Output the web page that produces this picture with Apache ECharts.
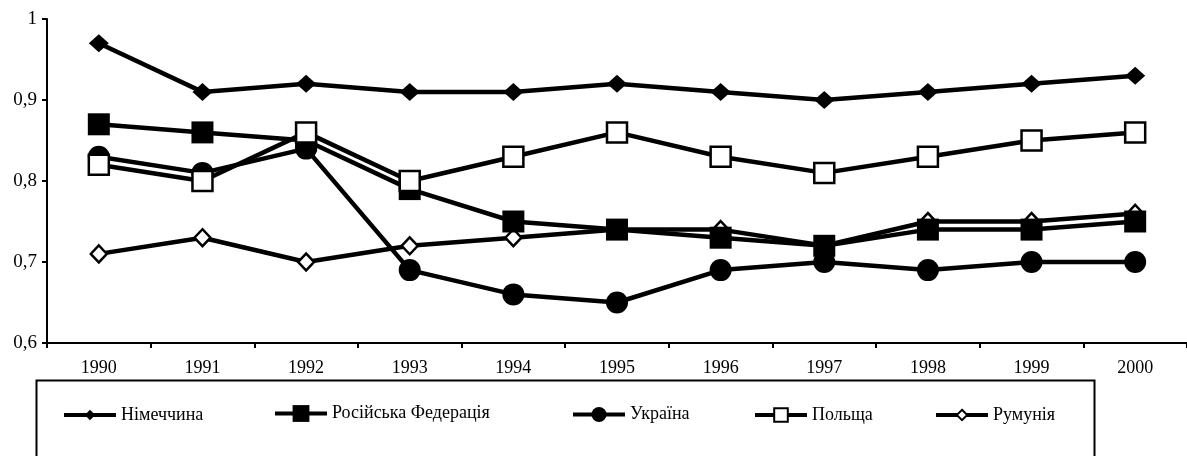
<!DOCTYPE html>
<html>
<head>
<meta charset="utf-8">
<script src="https://cdn.jsdelivr.net/npm/echarts@6/dist/echarts.min.js"></script>
<style>
	html, body {margin: 0; padding: 0; background: #fff;}
	#main {width: 1187px; height: 456px;}
</style>
</head>
<body>
<div id="main"></div>
<script>
var years = ['1990', '1991', '1992', '1993', '1994', '1995', '1996', '1997', '1998', '1999', '2000'];
var yTicks = [0.6, 0.7, 0.8, 0.9, 1];

var nimechchyna = [0.97, 0.91, 0.92, 0.91, 0.91, 0.92, 0.91, 0.90, 0.91, 0.92, 0.93];
var rosiya = [0.87, 0.86, 0.85, 0.79, 0.75, 0.74, 0.73, 0.72, 0.74, 0.74, 0.75];
var ukraina = [0.83, 0.81, 0.84, 0.69, 0.66, 0.65, 0.69, 0.70, 0.69, 0.70, 0.70];
var polshcha = [0.82, 0.80, 0.86, 0.80, 0.83, 0.86, 0.83, 0.81, 0.83, 0.85, 0.86];
var rumuniya = [0.71, 0.73, 0.70, 0.72, 0.73, 0.74, 0.74, 0.72, 0.75, 0.75, 0.76];

var names = ['Німеччина', 'Російська Федерація', 'Україна', 'Польща', 'Румунія'];

var serif = 'Liberation Serif';

var myChart = echarts.init(document.getElementById('main'), null, {renderer: 'canvas'});

// one legend per entry so every entry sits where it does in the picture
function oneLegend(name, left, h) {
	return {
		data: [name],
		left: left,
		top: 415 - Math.max(h, 18) / 2,
		padding: 0,
		itemWidth: 52,
		itemHeight: h,
		lineStyle: {width: 4, color: '#000'},
		textStyle: {fontFamily: serif, fontSize: 18, color: '#000'},
		selectedMode: false
	};
}

function lineSeries(name, data, symbol, size, hollow, z) {
	return {
		name: name,
		type: 'line',
		data: data,
		symbol: symbol,
		symbolSize: size,
		z: z,
		lineStyle: {color: '#000', width: 4.5},
		itemStyle: hollow ? {color: '#fff', borderColor: '#000', borderWidth: 2.5}
			: {color: '#000', borderColor: '#000', borderWidth: 0}
	};
}

var option = {
	animation: false,
	backgroundColor: '#fff',
	grid: {left: 47, right: 0, top: 19, bottom: 113},
	legend: [
		oneLegend(names[0], 62, 13),
		oneLegend(names[1], 273, 21),
		oneLegend(names[2], 571, 19),
		oneLegend(names[3], 753, 17),
		oneLegend(names[4], 934, 13)
	],
	graphic: [{
		type: 'rect',
		left: 34,
		top: 378,
		shape: {width: 1058, height: 100},
		style: {fill: 'none', stroke: '#000', lineWidth: 2}
	}],
	xAxis: {
		type: 'category',
		data: years,
		boundaryGap: true,
		axisLine: {lineStyle: {color: '#000', width: 2}},
		axisTick: {show: true, inside: false, length: 5, lineStyle: {color: '#000', width: 2}},
		axisLabel: {fontFamily: serif, fontSize: 18, color: '#000', margin: 16}
	},
	yAxis: {
		type: 'value',
		min: yTicks[0],
		max: yTicks[yTicks.length - 1],
		interval: 0.1,
		splitLine: {show: false},
		axisLine: {show: true, lineStyle: {color: '#000', width: 2}},
		axisTick: {show: true, length: 5, lineStyle: {color: '#000', width: 2}},
		axisLabel: {
			fontFamily: serif, fontSize: 19, color: '#000', margin: 10,
			formatter: function (v) {
				return String(Math.round(v * 10) / 10).replace('.', ',');
			}
		}
	},
	series: [
		lineSeries(names[4], rumuniya, 'diamond', [16, 17], true, 2),
		lineSeries(names[0], nimechchyna, 'diamond', [20, 18], false, 3),
		lineSeries(names[1], rosiya, 'rect', 22, false, 4),
		lineSeries(names[2], ukraina, 'circle', 22, false, 5),
		lineSeries(names[3], polshcha, 'rect', 20, true, 6)
	]
};

myChart.setOption(option);
</script>
</body>
</html>
